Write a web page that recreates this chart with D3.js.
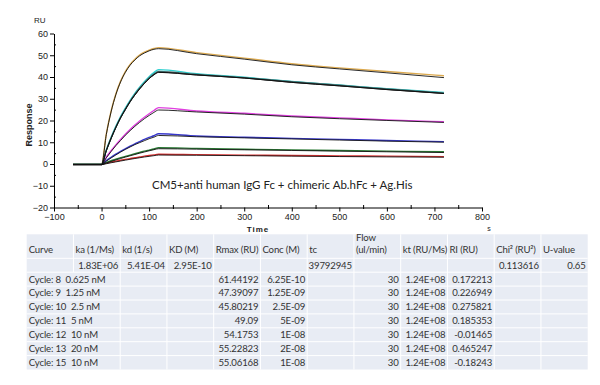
<html>
<head>
<meta charset="utf-8">
<title>Sensorgram</title>
<style>
  body { margin: 0; background: #fff; }
  text { font-family: "Liberation Sans", Arial, sans-serif; }
  .tbl text { font-family: Lato, "Open Sans", sans-serif; font-size: 9.6px; letter-spacing: -0.15px; fill: #333; }
</style>
</head>
<body>
<div id="chart"></div>
<script src="https://d3js.org/d3.v7.min.js"></script>
<script>

// time points (s) shared by all curves
var times = [-60, 0, 10, 20, 30, 40, 50, 60, 70, 80, 90, 100, 110, 120, 200, 300, 400, 500, 600, 720];

// measured responses (RU), one per cycle
var meas0625 = [0, 0, 0.45, 0.9, 1.3, 1.7, 2.1, 2.5, 2.9, 3.2, 3.6, 3.9, 4.2, 4.5, 4.3, 4.1, 3.9, 3.7, 3.6, 3.4];
var meas125  = [0, 0, 0.75, 1.5, 2.2, 2.9, 3.5, 4.1, 4.7, 5.3, 5.9, 6.4, 6.9, 7.5, 7.2, 6.8, 6.5, 6.2, 5.9, 5.6];
var meas25   = [0, 0, 1.6, 3.1, 4.5, 5.8, 7.0, 8.2, 9.3, 10.3, 11.3, 12.2, 13.0, 13.9, 12.9, 12.3, 11.8, 11.3, 10.8, 10.3];
var meas5    = [0, 0, 3.2, 6.1, 8.8, 11.3, 13.7, 15.9, 17.9, 19.8, 21.5, 23.1, 24.6, 25.9, 24.4, 23.3, 22.1, 21.2, 20.3, 19.4];
var meas10a  = [0, 0, 6.5, 12.2, 17.3, 21.8, 25.7, 29.3, 32.5, 35.3, 37.8, 40.1, 42.0, 43.4, 41.5, 39.9, 37.9, 36.3, 34.6, 32.9];
var meas20   = [0, 0, 13.9, 24.3, 32.2, 38.1, 42.5, 45.8, 48.2, 50.1, 51.4, 52.4, 53.1, 53.5, 51.2, 48.7, 46.1, 44.2, 42.5, 40.6];
var meas10b  = [0, 0, 6.3, 11.9, 16.9, 21.4, 25.2, 28.8, 32.0, 34.8, 37.3, 39.5, 41.3, 42.6, 41.2, 39.7, 37.8, 36.2, 34.5, 32.6];

// fitted responses (RU)
var fit0625 = [0, 0, 0.4, 0.85, 1.25, 1.65, 2.05, 2.45, 2.8, 3.15, 3.5, 3.8, 4.1, 4.4, 4.3, 4.1, 3.9, 3.7, 3.55, 3.4];
var fit125  = [0, 0, 0.75, 1.45, 2.15, 2.8, 3.45, 4.05, 4.65, 5.25, 5.8, 6.35, 6.85, 7.3, 7.1, 6.8, 6.5, 6.2, 5.9, 5.55];
var fit25   = [0, 0, 1.57, 3.05, 4.43, 5.76, 7.0, 8.1, 9.2, 10.1, 11.0, 11.9, 12.6, 13.4, 12.8, 12.3, 11.8, 11.3, 10.8, 10.3];
var fit5    = [0, 0, 3.1, 6.0, 8.7, 11.1, 13.5, 15.6, 17.6, 19.4, 21.1, 22.6, 24.0, 25.1, 24.2, 23.2, 22.0, 21.1, 20.3, 19.4];
var fit10   = [0, 0, 6.4, 12.0, 17.0, 21.5, 25.3, 28.9, 32.0, 34.8, 37.3, 39.5, 41.3, 42.4, 41.2, 39.8, 37.8, 36.2, 34.5, 32.7];
var fit20   = [0, 0, 13.8, 24.2, 32.1, 38.0, 42.4, 45.7, 48.1, 50.0, 51.3, 52.3, 53.0, 53.3, 51.0, 48.5, 45.9, 44.0, 42.2, 40.0];

var measSeries = [meas0625, meas125, meas25, meas5, meas10a, meas20, meas10b];
var fitSeries = [fit0625, fit125, fit25, fit5, fit10, fit20, fit10];
var colors = ["#d83030", "#2a7a34", "#3838cc", "#e040e0", "#30d0d0", "#dcaa50", "#3e6464"];

// axis ticks
var xTicks = [-100, 0, 100, 200, 300, 400, 500, 600, 700, 800];
var yTicks = [-20, -10, 0, 10, 20, 30, 40, 50, 60];

// table contents
var headers = ["Curve", "ka (1/Ms)", "kd (1/s)", "KD (M)", "Rmax (RU)", "Conc (M)", "tc", "Flow|(ul/min)", "kt (RU/Ms)", "RI (RU)", "Chi\u00B2 (RU\u00B2)", "U-value"];
var globalRow = ["", "1.83E+06", "5.41E-04", "2.95E-10", "", "", "39792945", "", "", "", "0.113616", "0.65"];
var cycleNames = ["Cycle: 8\u00A0\u00A00.625 nM", "Cycle: 9\u00A0\u00A01.25 nM", "Cycle: 10\u00A0\u00A02.5 nM", "Cycle: 11\u00A0\u00A05 nM", "Cycle: 12\u00A0\u00A010 nM", "Cycle: 13\u00A0\u00A020 nM", "Cycle: 15\u00A0\u00A010 nM"];
var rmax = ["61.44192", "47.39097", "45.80219", "49.09", "54.1753", "55.22823", "55.06168"];
var conc = ["6.25E-10", "1.25E-09", "2.5E-09", "5E-09", "1E-08", "2E-08", "1E-08"];
var flow = ["30", "30", "30", "30", "30", "30", "30"];
var kt = ["1.24E+08", "1.24E+08", "1.24E+08", "1.24E+08", "1.24E+08", "1.24E+08", "1.24E+08"];
var ri = ["0.172213", "0.226949", "0.275821", "0.185353", "-0.01465", "0.465247", "-0.18243"];

var svg = d3.select("#chart").append("svg")
    .attr("width", 600)
    .attr("height", 385);

// scales
var x = d3.scaleLinear().domain([-100, 800]).range([54, 482]);
var y = d3.scaleLinear().domain([-20, 60]).range([207.5, 33.5]);

// axes
svg.append("g")
    .attr("transform", "translate(54,0)")
    .call(d3.axisLeft(y).tickValues(yTicks).tickSize(4).tickSizeOuter(0).tickPadding(2))
    .call(function (g) {
        g.selectAll("text").style("font-size", "9px").attr("fill", "#222");
    });
svg.append("g")
    .attr("transform", "translate(54,0)")
    .call(d3.axisRight(y).tickValues(d3.range(-15, 60, 10)).tickSize(2).tickFormat(""))
    .call(function (g) { g.select(".domain").remove(); });

svg.append("g")
    .attr("transform", "translate(0,207.5)")
    .call(d3.axisBottom(x).tickValues(xTicks).tickSize(4).tickSizeOuter(0).tickPadding(2))
    .call(function (g) {
        g.selectAll("text").style("font-size", "9px").attr("fill", "#222");
    });
svg.append("g")
    .attr("transform", "translate(0,209)")
    .call(d3.axisTop(x).tickValues(d3.range(-50, 800, 100)).tickSize(4).tickFormat(""))
    .call(function (g) { g.select(".domain").remove(); });

// axis labels
svg.append("text")
    .attr("x", 34).attr("y", 23)
    .style("font-size", "8px")
    .attr("fill", "#222")
    .text("RU");
svg.append("text")
    .attr("transform", "translate(32,125) rotate(-90)")
    .attr("text-anchor", "middle")
    .style("font-size", "9px")
    .style("font-weight", "bold")
    .attr("fill", "#222")
    .text("Response");
svg.append("text")
    .attr("x", 258).attr("y", 232)
    .attr("text-anchor", "middle")
    .style("font-size", "8px")
    .style("font-weight", "bold")
    .style("letter-spacing", "1px")
    .attr("fill", "#222")
    .text("Time");
svg.append("text")
    .attr("x", 489).attr("y", 231)
    .attr("text-anchor", "middle")
    .style("font-size", "7px")
    .attr("fill", "#222")
    .text("s");

// curves
var line = d3.line()
    .x(function (d, i) { return x(times[i]); })
    .y(function (d) { return y(d); })
    .curve(d3.curveMonotoneX);

svg.append("g")
    .selectAll("path")
    .data(measSeries)
    .enter()
    .append("path")
    .attr("d", line)
    .attr("fill", "none")
    .attr("stroke", function (d, i) { return colors[i]; })
    .attr("stroke-width", 1.4);

svg.append("g")
    .selectAll("path")
    .data(fitSeries)
    .enter()
    .append("path")
    .attr("d", line)
    .attr("fill", "none")
    .attr("stroke", "#111")
    .attr("stroke-width", 0.9)
    .attr("transform", "translate(0,0.6)");

// annotation
svg.append("text")
    .attr("x", 152).attr("y", 189)
    .style("font-family", "Lato, 'Open Sans', sans-serif")
    .style("font-size", "11.5px")
    .attr("fill", "#222")
    .text("CM5+anti human IgG Fc + chimeric Ab.hFc + Ag.His");

// table
var tbl = svg.append("g").attr("class", "tbl");
var col = d3.scaleLinear().domain([0, 12]).range([26.7, 587.7]);
var headTop = 234.3, headBottom = 258.3, rowH = 13.9;
var nRows = 1 + cycleNames.length;
var tblBottom = headBottom + nRows * rowH;

tbl.append("rect")
    .attr("x", col(0)).attr("y", headTop)
    .attr("width", col(12) - col(0))
    .attr("height", tblBottom - headTop)
    .attr("fill", "#e8ecf4");

// horizontal lines
var hLines = [headBottom].concat(d3.range(1, nRows).map(function (r) { return headBottom + r * rowH; }));
tbl.selectAll(".hl").data(hLines).enter().append("line")
    .attr("x1", col(0)).attr("x2", col(12))
    .attr("y1", function (d) { return d; }).attr("y2", function (d) { return d; })
    .attr("stroke", "#fff").attr("stroke-width", 1);

// vertical lines (first one hidden where curve names overflow)
tbl.selectAll(".vl").data(d3.range(1, 12)).enter().append("line")
    .attr("x1", function (d) { return col(d); }).attr("x2", function (d) { return col(d); })
    .attr("y1", headTop)
    .attr("y2", function (d) { return d === 1 ? headBottom + rowH : tblBottom; })
    .attr("stroke", "#fff").attr("stroke-width", 1);

// header text
headers.forEach(function (h, i) {
    var parts = h.split("|");
    parts.forEach(function (p, k) {
        tbl.append("text")
            .attr("x", col(i) + 2)
            .attr("y", headBottom - 5 - (parts.length - 1 - k) * 12)
            .text(p);
    });
});

function rightCell(txt, c, r) {
    if (!txt) return;
    tbl.append("text")
        .attr("x", col(c + 1) - 2)
        .attr("y", headBottom + r * rowH + 10.3)
        .attr("text-anchor", "end")
        .text(txt);
}

globalRow.forEach(function (v, i) { rightCell(v, i, 0); });

cycleNames.forEach(function (name, i) {
    var r = i + 1;
    tbl.append("text")
        .attr("x", col(0) + 2)
        .attr("y", headBottom + r * rowH + 10.3)
        .text(name);
    rightCell(rmax[i], 4, r);
    rightCell(conc[i], 5, r);
    rightCell(flow[i], 7, r);
    rightCell(kt[i], 8, r);
    rightCell(ri[i], 9, r);
});

</script>
</body>
</html>
